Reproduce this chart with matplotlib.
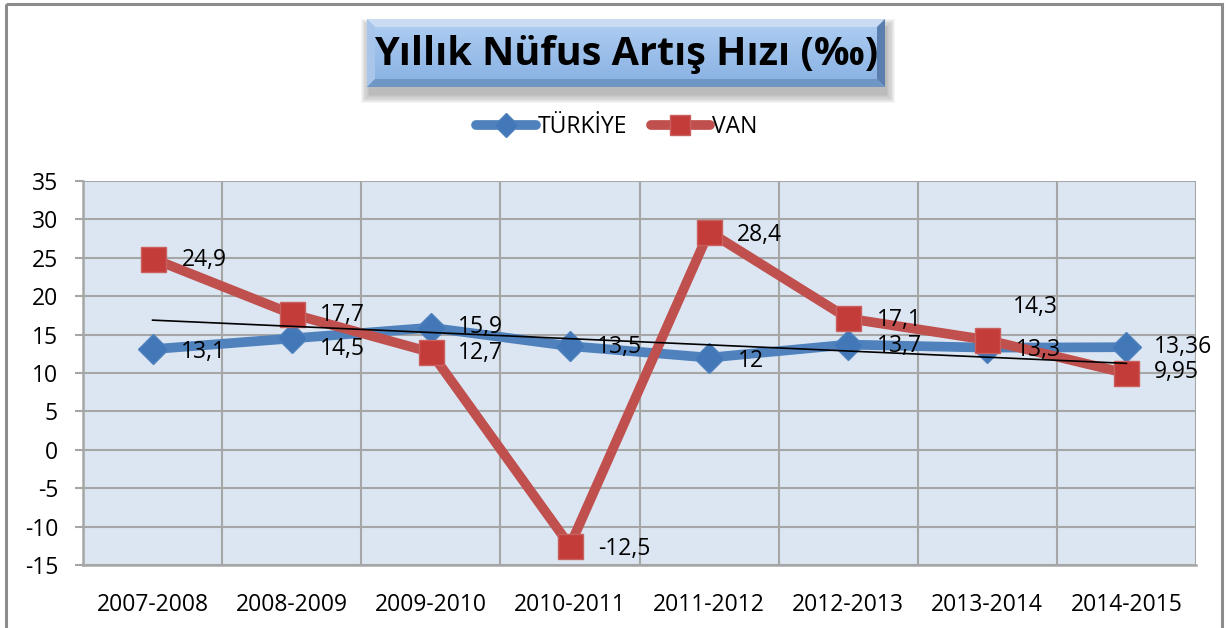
import matplotlib
matplotlib.use("Agg")
import matplotlib.pyplot as plt
import numpy as np
from matplotlib.patches import Rectangle, Polygon

plt.rcParams['font.family'] = ['Open Sans', 'DejaVu Sans']
plt.rcParams['axes.unicode_minus'] = False

periods = ["2007-2008", "2008-2009", "2009-2010", "2010-2011",
           "2011-2012", "2012-2013", "2013-2014", "2014-2015"]
turkiye = [13.1, 14.5, 15.9, 13.5, 12, 13.7, 13.3, 13.36]
van = [24.9, 17.7, 12.7, -12.5, 28.4, 17.1, 14.3, 9.95]
turkiye_labels = ["13,1", "14,5", "15,9", "13,5", "12", "13,7", "13,3", "13,36"]
van_labels = ["24,9", "17,7", "12,7", "-12,5", "28,4", "17,1", "14,3", "9,95"]

# label offsets in pixels (dx, dy)
t_off = [(28, -3), (28, -11), (27, 1), (27, -1), (29, -3), (29, -1), (29, -2), (27, 0)]
v_off = [(29, -1), (28, -1), (27, -1), (28, -3), (28, -3), (29, -2), (26, 33), (27, 1)]

W, H = 1226, 628
fig = plt.figure(figsize=(W / 100, H / 100), dpi=100)
fig.patch.set_facecolor("white")

ax = fig.add_axes([83 / W, (H - 565) / H, (1196 - 83) / W, (565 - 181) / H])
ax.set_facecolor("#dce6f2")
x = np.arange(len(periods))

ax.plot(x, turkiye, color="#4f81bd", lw=7, marker="D", ms=15,
        markerfacecolor="#4277b8", markeredgecolor="#4f81bd", zorder=3,
        solid_capstyle="round", label="TÜRKİYE")
ax.plot(x, van, color="#c0504d", lw=7, marker="s", ms=18,
        markerfacecolor="#c43c3a", markeredgecolor="#c9605d", zorder=4,
        solid_capstyle="round", label="VAN")

# linear trend of VAN
k, b = np.polyfit(x, van, 1)
ax.plot(x, k * x + b, color="black", lw=1.2, zorder=5)

for i in range(len(x)):
    ax.annotate(turkiye_labels[i], (x[i], turkiye[i]), xytext=t_off[i],
                textcoords="offset pixels", ha="left", va="center",
                fontsize=16.5, zorder=6)
    ax.annotate(van_labels[i], (x[i], van[i]), xytext=v_off[i],
                textcoords="offset pixels", ha="left", va="center",
                fontsize=16.5, zorder=6)

ax.set_xlim(-0.5, 7.5)
ax.set_ylim(-15, 35)
ax.set_yticks(np.arange(-15, 36, 5))
ax.set_xticks(x)
ax.set_xticklabels(periods)
ax.set_xticks(np.arange(-0.5, 7.6, 0.5), minor=True)
ax.grid(True, which="minor", axis="x", color="#a6a6a6", lw=1.5)
ax.grid(True, which="major", axis="y", color="#a6a6a6", lw=1.5)
ax.set_axisbelow(True)
for s in ["top", "right"]:
    ax.spines[s].set_visible(False)
for s in ["left", "bottom"]:
    ax.spines[s].set_color("#a6a6a6")
    ax.spines[s].set_linewidth(1.8)
ax.tick_params(axis="y", which="major", length=6, color="#a6a6a6", width=1.5,
               labelsize=16.5, pad=12)
ax.tick_params(axis="x", which="both", length=0, labelsize=16.5, pad=20)

# overlay in pixel coordinates for the border and the title box
ov = fig.add_axes([0, 0, 1, 1], zorder=10)
ov.set_xlim(0, W)
ov.set_ylim(H, 0)
ov.axis("off")
ov.patch.set_alpha(0)
ov.add_patch(Rectangle((6, 4), 1216, 640, fill=False, edgecolor="#8c8c8c", lw=2.2))

bx0, by0, bx1, by1 = 367, 19, 885, 87
bev = 8
# soft shadow
for j in range(8):
    g = j * 1.2
    ov.add_patch(Rectangle((bx0 + 2 - g, by0 + 8 - g), bx1 - bx0 + 2 * g, by1 - by0 + 2 * g,
                           color="#555555", alpha=0.06, lw=0))
# face gradient
grad = np.linspace(0, 1, 100)[:, None, None]
top_c = np.array([0.69, 0.81, 0.95])
bot_c = np.array([0.53, 0.69, 0.89])
img = np.repeat(top_c + (bot_c - top_c) * grad, 2, axis=1)
ov.imshow(img, extent=(bx0, bx1, by1, by0), aspect="auto", zorder=2)
ov.set_xlim(0, W)
ov.set_ylim(H, 0)
# bevel edges
ov.add_patch(Polygon([(bx0, by0), (bx1, by0), (bx1 - bev, by0 + bev), (bx0 + bev, by0 + bev)],
                     color="#c9dcf3", lw=0, zorder=3))
ov.add_patch(Polygon([(bx0, by0), (bx0 + bev, by0 + bev), (bx0 + bev, by1 - bev), (bx0, by1)],
                     color="#a9c5ea", lw=0, zorder=3))
ov.add_patch(Polygon([(bx1, by0), (bx1, by1), (bx1 - bev, by1 - bev), (bx1 - bev, by0 + bev)],
                     color="#5a7fae", lw=0, zorder=3))
ov.add_patch(Polygon([(bx0, by1), (bx0 + bev, by1 - bev), (bx1 - bev, by1 - bev), (bx1, by1)],
                     color="#7096c6", lw=0, zorder=3))
ov.text((bx0 + bx1) / 2, (by0 + by1) / 2 + 1, "Yıllık Nüfus Artış Hızı (‰)",
        ha="center", va="center", fontsize=28.5, fontweight="bold",
        color="black", zorder=4)

fig.legend(loc="center", bbox_to_anchor=(617 / W, 1 - 127 / H), ncol=2,
           frameon=False, fontsize=16.5, handlelength=2.6, handletextpad=0.1,
           columnspacing=1.0, markerscale=0.8)

fig.savefig("out.png", dpi=100)
